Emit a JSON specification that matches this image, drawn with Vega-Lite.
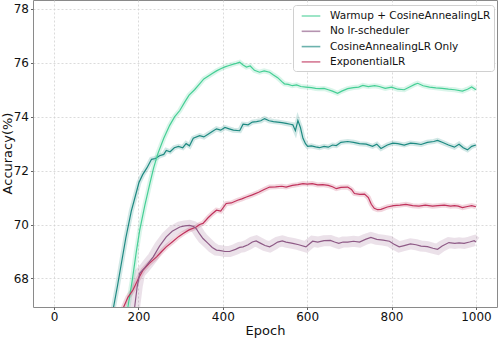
{
  "$schema": "https://vega.github.io/schema/vega-lite/v6.json",
  "width": 464,
  "height": 307,
  "autosize": "none",
  "padding": {"left": 33, "top": 0, "right": 1, "bottom": 31},
  "background": "white",
  "config": {
    "font": "DejaVu Sans",
    "view": {"stroke": "#8a8a8a", "strokeWidth": 1},
    "axis": {"labelFont": "DejaVu Sans", "titleFont": "DejaVu Sans", "labelFontSize": 12, "titleFontSize": 13, "titleFontWeight": "normal", "labelColor": "#111", "titleColor": "#111", "domain": false, "tickColor": "#666", "tickSize": 2.5, "gridColor": "#d2d2d2", "gridDash": [2, 2], "gridWidth": 0.8}
  },
  "data": {"values": [
    {"s":"C","e":130,"v":65.9},{"s":"C","e":141,"v":66.94},{"s":"C","e":150,"v":67.7},{"s":"C","e":160,"v":68.6},{"s":"C","e":170,"v":69.5},{"s":"C","e":183,"v":70.5},{"s":"C","e":190,"v":70.9},{"s":"C","e":201,"v":71.55},{"s":"C","e":210,"v":71.85},{"s":"C","e":220,"v":72.1},{"s":"C","e":231,"v":72.42},{"s":"C","e":240,"v":72.45},{"s":"C","e":250,"v":72.55},{"s":"C","e":260,"v":72.6},{"s":"C","e":266,"v":72.75},{"s":"C","e":275,"v":72.7},{"s":"C","e":285,"v":72.85},{"s":"C","e":295,"v":72.9},{"s":"C","e":305,"v":72.85},{"s":"C","e":313,"v":73.0},{"s":"C","e":321,"v":72.92},{"s":"C","e":330,"v":73.2},{"s":"C","e":345,"v":73.3},{"s":"C","e":355,"v":73.25},{"s":"C","e":365,"v":73.35},{"s":"C","e":375,"v":73.45},{"s":"C","e":385,"v":73.55},{"s":"C","e":395,"v":73.5},{"s":"C","e":405,"v":73.6},{"s":"C","e":415,"v":73.55},{"s":"C","e":425,"v":73.5},{"s":"C","e":440,"v":73.48},{"s":"C","e":448,"v":73.72},{"s":"C","e":460,"v":73.7},{"s":"C","e":470,"v":73.8},{"s":"C","e":480,"v":73.82},{"s":"C","e":490,"v":73.85},{"s":"C","e":499,"v":73.93},{"s":"C","e":510,"v":73.85},{"s":"C","e":520,"v":73.82},{"s":"C","e":530,"v":73.8},{"s":"C","e":540,"v":73.78},{"s":"C","e":550,"v":73.75},{"s":"C","e":560,"v":73.72},{"s":"C","e":566,"v":73.7},{"s":"C","e":572,"v":73.48},{"s":"C","e":578,"v":73.86},{"s":"C","e":584,"v":73.6},{"s":"C","e":590,"v":73.2},{"s":"C","e":596,"v":73.0},{"s":"C","e":601,"v":72.9},{"s":"C","e":610,"v":72.92},{"s":"C","e":620,"v":72.88},{"s":"C","e":629,"v":72.85},{"s":"C","e":640,"v":72.9},{"s":"C","e":650,"v":72.87},{"s":"C","e":660,"v":72.95},{"s":"C","e":669,"v":72.93},{"s":"C","e":680,"v":73.05},{"s":"C","e":696,"v":73.08},{"s":"C","e":710,"v":73.05},{"s":"C","e":724,"v":73.0},{"s":"C","e":740,"v":72.98},{"s":"C","e":755,"v":72.9},{"s":"C","e":765,"v":72.98},{"s":"C","e":775,"v":72.82},{"s":"C","e":790,"v":72.95},{"s":"C","e":803,"v":73.02},{"s":"C","e":815,"v":73.0},{"s":"C","e":830,"v":72.95},{"s":"C","e":845,"v":73.02},{"s":"C","e":858,"v":73.0},{"s":"C","e":870,"v":72.97},{"s":"C","e":885,"v":73.05},{"s":"C","e":900,"v":73.08},{"s":"C","e":909,"v":73.12},{"s":"C","e":920,"v":73.05},{"s":"C","e":935,"v":72.95},{"s":"C","e":949,"v":72.87},{"s":"C","e":960,"v":72.98},{"s":"C","e":970,"v":72.85},{"s":"C","e":980,"v":72.77},{"s":"C","e":990,"v":72.9},{"s":"C","e":1000,"v":72.95},

    {"s":"A","e":165,"v":66.0},{"s":"A","e":175,"v":66.94},{"s":"A","e":185,"v":67.9},{"s":"A","e":195,"v":69.0},{"s":"A","e":203,"v":69.79},{"s":"A","e":215,"v":70.7},{"s":"A","e":227,"v":71.52},{"s":"A","e":236,"v":72.1},{"s":"A","e":246,"v":72.63},{"s":"A","e":260,"v":73.2},{"s":"A","e":274,"v":73.68},{"s":"A","e":286,"v":74.0},{"s":"A","e":298,"v":74.23},{"s":"A","e":310,"v":74.55},{"s":"A","e":320,"v":74.8},{"s":"A","e":333,"v":75.0},{"s":"A","e":345,"v":75.22},{"s":"A","e":355,"v":75.4},{"s":"A","e":365,"v":75.5},{"s":"A","e":375,"v":75.6},{"s":"A","e":385,"v":75.7},{"s":"A","e":395,"v":75.78},{"s":"A","e":405,"v":75.85},{"s":"A","e":415,"v":75.9},{"s":"A","e":425,"v":75.95},{"s":"A","e":432,"v":75.98},{"s":"A","e":440,"v":76.02},{"s":"A","e":448,"v":75.92},{"s":"A","e":456,"v":75.84},{"s":"A","e":465,"v":75.88},{"s":"A","e":475,"v":75.72},{"s":"A","e":487,"v":75.65},{"s":"A","e":498,"v":75.7},{"s":"A","e":511,"v":75.65},{"s":"A","e":520,"v":75.55},{"s":"A","e":530,"v":75.45},{"s":"A","e":540,"v":75.3},{"s":"A","e":546,"v":75.22},{"s":"A","e":555,"v":75.2},{"s":"A","e":565,"v":75.15},{"s":"A","e":575,"v":75.18},{"s":"A","e":585,"v":75.12},{"s":"A","e":597,"v":75.1},{"s":"A","e":610,"v":75.08},{"s":"A","e":620,"v":75.05},{"s":"A","e":629,"v":75.04},{"s":"A","e":640,"v":75.05},{"s":"A","e":650,"v":75.0},{"s":"A","e":660,"v":74.95},{"s":"A","e":672,"v":74.87},{"s":"A","e":682,"v":74.95},{"s":"A","e":696,"v":75.04},{"s":"A","e":710,"v":75.08},{"s":"A","e":722,"v":75.1},{"s":"A","e":732,"v":75.16},{"s":"A","e":745,"v":75.12},{"s":"A","e":760,"v":75.15},{"s":"A","e":771,"v":75.12},{"s":"A","e":785,"v":75.05},{"s":"A","e":800,"v":75.1},{"s":"A","e":815,"v":75.02},{"s":"A","e":830,"v":75.0},{"s":"A","e":845,"v":75.12},{"s":"A","e":855,"v":75.2},{"s":"A","e":862,"v":75.24},{"s":"A","e":875,"v":75.15},{"s":"A","e":890,"v":75.1},{"s":"A","e":905,"v":75.07},{"s":"A","e":920,"v":75.05},{"s":"A","e":935,"v":75.02},{"s":"A","e":950,"v":75.0},{"s":"A","e":968,"v":74.95},{"s":"A","e":980,"v":75.02},{"s":"A","e":990,"v":75.1},{"s":"A","e":1000,"v":75.0},

    {"s":"D","e":155,"v":66.0},{"s":"D","e":165,"v":66.94},{"s":"D","e":175,"v":67.3},{"s":"D","e":187,"v":67.57},{"s":"D","e":200,"v":68.0},{"s":"D","e":211,"v":68.31},{"s":"D","e":225,"v":68.55},{"s":"D","e":243,"v":68.8},{"s":"D","e":255,"v":69.0},{"s":"D","e":266,"v":69.17},{"s":"D","e":280,"v":69.35},{"s":"D","e":295,"v":69.55},{"s":"D","e":306,"v":69.67},{"s":"D","e":320,"v":69.8},{"s":"D","e":337,"v":69.91},{"s":"D","e":345,"v":70.0},{"s":"D","e":353,"v":70.04},{"s":"D","e":365,"v":70.25},{"s":"D","e":375,"v":70.4},{"s":"D","e":385,"v":70.53},{"s":"D","e":395,"v":70.5},{"s":"D","e":408,"v":70.78},{"s":"D","e":420,"v":70.8},{"s":"D","e":435,"v":70.9},{"s":"D","e":445,"v":70.95},{"s":"D","e":456,"v":71.02},{"s":"D","e":470,"v":71.1},{"s":"D","e":485,"v":71.2},{"s":"D","e":498,"v":71.3},{"s":"D","e":511,"v":71.39},{"s":"D","e":525,"v":71.4},{"s":"D","e":540,"v":71.42},{"s":"D","e":550,"v":71.39},{"s":"D","e":565,"v":71.45},{"s":"D","e":578,"v":71.48},{"s":"D","e":590,"v":71.52},{"s":"D","e":600,"v":71.5},{"s":"D","e":612,"v":71.52},{"s":"D","e":625,"v":71.47},{"s":"D","e":637,"v":71.48},{"s":"D","e":650,"v":71.45},{"s":"D","e":660,"v":71.4},{"s":"D","e":669,"v":71.33},{"s":"D","e":680,"v":71.38},{"s":"D","e":696,"v":71.39},{"s":"D","e":705,"v":71.3},{"s":"D","e":712,"v":71.15},{"s":"D","e":725,"v":71.12},{"s":"D","e":736,"v":71.13},{"s":"D","e":745,"v":71.0},{"s":"D","e":752,"v":70.75},{"s":"D","e":759,"v":70.6},{"s":"D","e":767,"v":70.55},{"s":"D","e":775,"v":70.56},{"s":"D","e":790,"v":70.65},{"s":"D","e":805,"v":70.7},{"s":"D","e":820,"v":70.72},{"s":"D","e":834,"v":70.75},{"s":"D","e":850,"v":70.7},{"s":"D","e":865,"v":70.68},{"s":"D","e":880,"v":70.72},{"s":"D","e":897,"v":70.68},{"s":"D","e":910,"v":70.7},{"s":"D","e":925,"v":70.72},{"s":"D","e":940,"v":70.68},{"s":"D","e":949,"v":70.7},{"s":"D","e":958,"v":70.68},{"s":"D","e":968,"v":70.63},{"s":"D","e":980,"v":70.67},{"s":"D","e":990,"v":70.7},{"s":"D","e":1000,"v":70.66},

    {"s":"B","e":180,"v":66.0},{"s":"B","e":191,"v":66.94},{"s":"B","e":197,"v":67.7},{"s":"B","e":203,"v":68.19},{"s":"B","e":215,"v":68.4},{"s":"B","e":225,"v":68.6},{"s":"B","e":235,"v":68.8},{"s":"B","e":250,"v":69.2},{"s":"B","e":266,"v":69.54},{"s":"B","e":280,"v":69.75},{"s":"B","e":298,"v":69.91},{"s":"B","e":310,"v":69.95},{"s":"B","e":321,"v":69.97},{"s":"B","e":330,"v":69.93},{"s":"B","e":337,"v":69.85},{"s":"B","e":345,"v":69.65},{"s":"B","e":353,"v":69.48},{"s":"B","e":365,"v":69.3},{"s":"B","e":375,"v":69.15},{"s":"B","e":385,"v":69.05},{"s":"B","e":395,"v":69.03},{"s":"B","e":405,"v":69.0},{"s":"B","e":416,"v":69.0},{"s":"B","e":430,"v":69.08},{"s":"B","e":440,"v":69.15},{"s":"B","e":448,"v":69.17},{"s":"B","e":460,"v":69.25},{"s":"B","e":470,"v":69.35},{"s":"B","e":479,"v":69.39},{"s":"B","e":490,"v":69.3},{"s":"B","e":500,"v":69.22},{"s":"B","e":511,"v":69.17},{"s":"B","e":520,"v":69.25},{"s":"B","e":530,"v":69.35},{"s":"B","e":541,"v":69.39},{"s":"B","e":550,"v":69.35},{"s":"B","e":566,"v":69.3},{"s":"B","e":580,"v":69.25},{"s":"B","e":597,"v":69.17},{"s":"B","e":605,"v":69.28},{"s":"B","e":613,"v":69.38},{"s":"B","e":625,"v":69.35},{"s":"B","e":640,"v":69.4},{"s":"B","e":655,"v":69.41},{"s":"B","e":665,"v":69.35},{"s":"B","e":675,"v":69.3},{"s":"B","e":685,"v":69.35},{"s":"B","e":696,"v":69.35},{"s":"B","e":710,"v":69.38},{"s":"B","e":724,"v":69.35},{"s":"B","e":738,"v":69.45},{"s":"B","e":751,"v":69.52},{"s":"B","e":765,"v":69.45},{"s":"B","e":780,"v":69.42},{"s":"B","e":795,"v":69.38},{"s":"B","e":805,"v":69.28},{"s":"B","e":818,"v":69.17},{"s":"B","e":830,"v":69.22},{"s":"B","e":845,"v":69.28},{"s":"B","e":858,"v":69.25},{"s":"B","e":870,"v":69.2},{"s":"B","e":885,"v":69.18},{"s":"B","e":898,"v":69.12},{"s":"B","e":909,"v":69.08},{"s":"B","e":920,"v":69.2},{"s":"B","e":936,"v":69.33},{"s":"B","e":950,"v":69.3},{"s":"B","e":960,"v":69.32},{"s":"B","e":972,"v":69.3},{"s":"B","e":985,"v":69.35},{"s":"B","e":996,"v":69.4},{"s":"B","e":1000,"v":69.35}
  ]},
  "encoding": {
    "x": {"field": "e", "type": "quantitative", "scale": {"domain": [-50, 1050], "nice": false, "zero": false}, "axis": {"values": [0, 200, 400, 600, 800, 1000], "format": "d", "title": "Epoch", "labelPadding": 2, "titlePadding": 2, "grid": true}},
    "y": {"field": "v", "type": "quantitative", "scale": {"domain": [66.94, 78.33], "nice": false, "zero": false}, "axis": {"values": [68, 70, 72, 74, 76, 78], "format": "d", "title": "Accuracy(%)", "labelPadding": 2, "titleX": -26, "titleY": 153, "titleAngle": -90, "titleAlign": "center", "titleBaseline": "middle", "grid": true}},
    "color": {"field": "s", "type": "nominal",
      "scale": {"domain": ["A", "B", "C", "D"], "range": ["#45cf95", "#8e5a86", "#1e8a82", "#c0325c"]},
      "legend": {
        "orient": "none", "legendX": 260, "legendY": 5, "title": null,
        "labelExpr": "datum.label == 'A' ? 'Warmup + CosineAnnealingLR' : datum.label == 'B' ? 'No lr-scheduler' : datum.label == 'C' ? 'CosineAnnealingLR Only' : 'ExponentialLR'",
        "labelFont": "DejaVu Sans", "labelFontSize": 10.5, "labelColor": "#111", "labelLimit": 300,
        "symbolType": "M-1.33,0H1.33", "symbolSize": 196, "symbolStrokeWidth": 1.6, "symbolOpacity": 0.65, "symbolOffset": 7,
        "labelOffset": 11, "rowPadding": 1.3,
        "fillColor": "white", "strokeColor": "#d0d0d0", "cornerRadius": 3, "padding": 3
      }
    }
  },
  "layer": [
    {
      "transform": [{"filter": "datum.s == 'B'"}],
      "mark": {"type": "line", "clip": true, "strokeWidth": 11, "opacity": 0.18}
    },
    {
      "transform": [{"filter": "datum.s != 'B'"}],
      "mark": {"type": "line", "clip": true, "strokeWidth": 5, "opacity": 0.2}
    },
    {
      "mark": {"type": "line", "clip": true, "strokeWidth": 1.2}
    }
  ]
}
